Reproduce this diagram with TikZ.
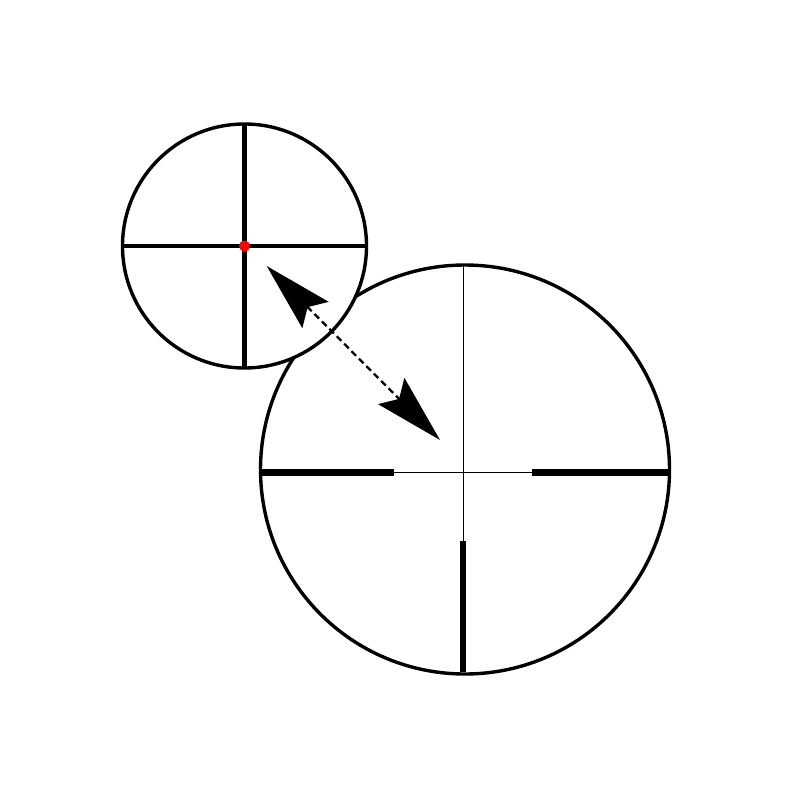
\documentclass[tikz,border=0pt]{standalone}
\usetikzlibrary{arrows.meta}

\begin{document}
\begin{tikzpicture}[x=1pt, y=-1pt,
        rim/.style={black, line width=3.4pt},
        hair/.style={black, line width=1.3pt},
        post/.style={black, line width=6.5pt}]
        \useasboundingbox (0,0) rectangle (800,800);

        % large reticle
        \draw [rim] (465,469.5) circle (204.5);
        \draw [hair] (463.5,265.5) -- (463.5,542);
        \draw [hair] (393,472.5) -- (533,472.5);
        \draw [post] (261,472.5) -- (394,472.5);
        \draw [post] (531.7,472.5) -- (669,472.5);
        \draw [post] (462.8,541) -- (462.8,672);

        % small reticle on top
        \filldraw [rim, fill=white] (244.5,246) circle (122);
        \draw [black, line width=4.2pt] (122.5,246) -- (366.5,246);
        \draw [black, line width=4.2pt] (244.5,124) -- (244.5,368);
        \fill [red] (244.5,246) circle (5.5);

        % zoom arrow
        \coordinate (tipA) at (266.7,266);
        \coordinate (tipB) at (440,440);
        \draw [black, line width=2.3pt, dash pattern=on 6.5pt off 4pt,
               {Stealth[length=69pt, width=37pt, inset=11pt]}-{Stealth[length=69pt, width=37pt, inset=11pt]}]
               (tipA) -- (tipB);
\end{tikzpicture}
\end{document}
